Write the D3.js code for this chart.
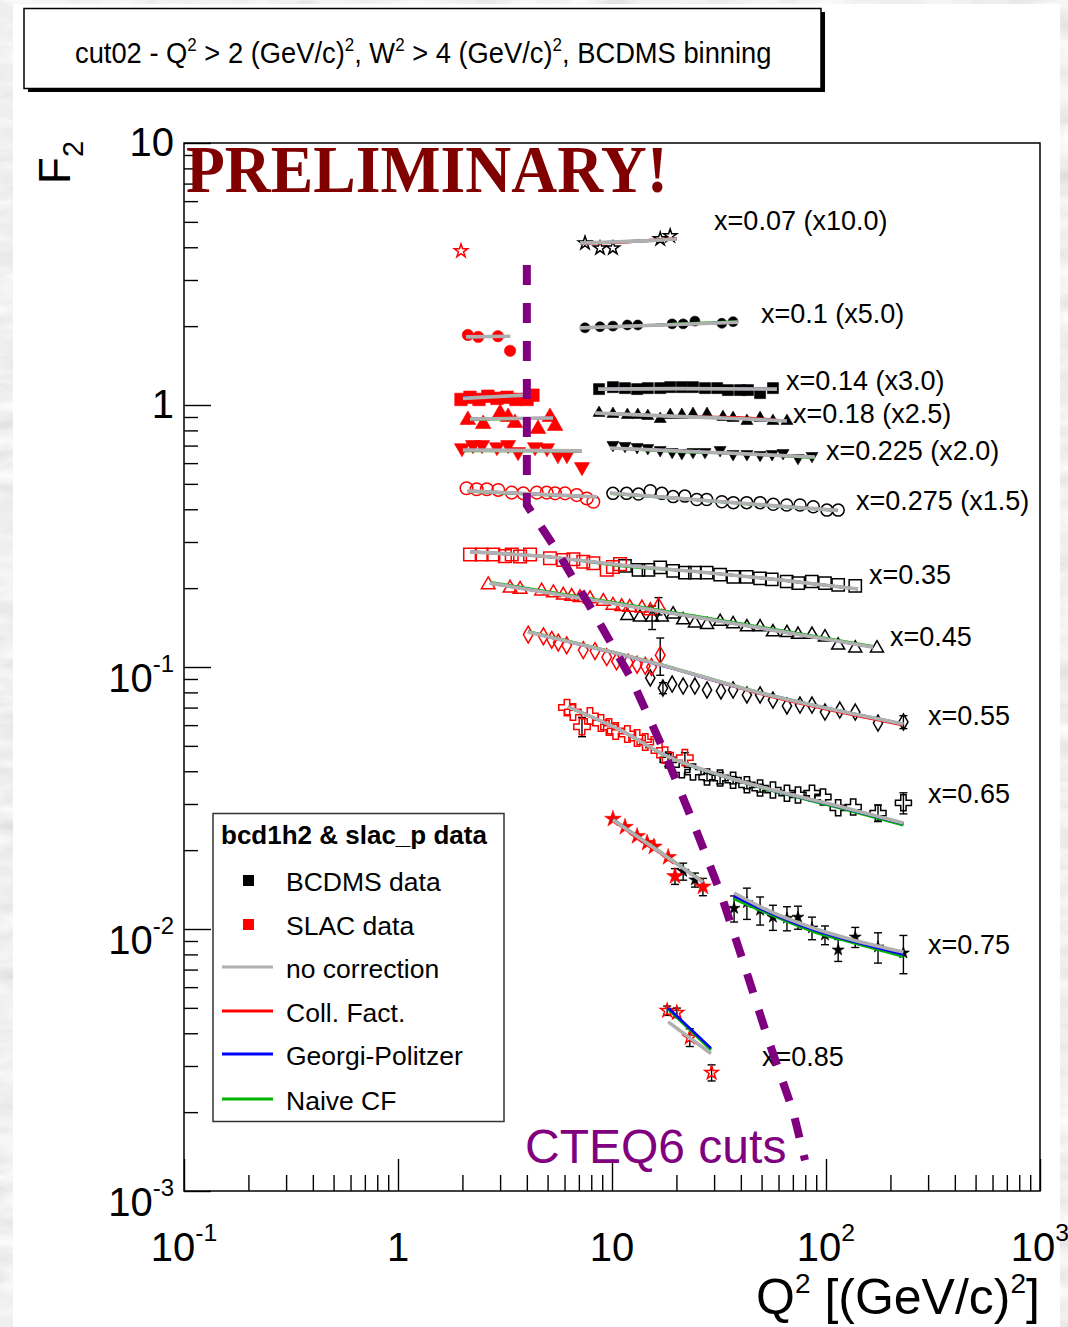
<!DOCTYPE html>
<html><head><meta charset="utf-8">
<script src="https://cdn.jsdelivr.net/npm/d3@7"></script>
<style>html,body{margin:0;padding:0;background:#ddd;overflow:hidden}svg{display:block}</style>
</head><body>
<svg id="c" width="1068" height="1327"></svg>
<script>
// ---------------- DATA ----------------
const binLabels = ["x=0.07 (x10.0)","x=0.1 (x5.0)","x=0.14 (x3.0)","x=0.18 (x2.5)","x=0.225 (x2.0)","x=0.275 (x1.5)","x=0.35","x=0.45","x=0.55","x=0.65","x=0.75","x=0.85"];
// label anchor (Q2, F2) for each bin label
const labelQ2 = [30.0, 49.7, 65.1, 70.1, 100, 138, 159, 199, 300, 300, 300, 50.2];
const labelF2 = [4.66, 2.06, 1.14, 0.854, 0.617, 0.397, 0.207, 0.120, 0.0601, 0.0303, 0.00803, 0.0030];

// SLAC data (F2 as plotted, incl. scale factor)
const slacQ2 = [
 [1.97],
 [2.12,2.37,2.93,3.34],
 [1.97,2.17,2.39,2.63,2.90,3.23,3.56,4.01,4.27],
 [2.12,2.50,3.00,3.27,3.52,4.51,5.13,5.42],
 [1.99,2.24,2.47,2.90,3.27,3.64,4.37,4.97,5.59,6.16,7.24],
 [2.09,2.33,2.60,2.94,3.40,3.85,4.45,4.95,5.42,6.03,6.84,7.62,8.18],
 [2.17,2.46,2.79,3.16,3.40,3.72,4.14,5.13,5.92,6.60,7.34,8.18,9.45,10.1,10.9],
 [2.64,3.34,3.72,4.69,5.32,5.92,6.48,7.09,7.89,9.11,10.1,11.1,12.1,13.8,15.1,16.5],
 [4.06,4.78,5.23,5.61,6.14,7.34,8.33,9.45,10.5,11.9,13.1,14.3,15.3,16.8],
 [6.16,6.57,7.24,7.89,8.88,9.68,10.4,11.8,13.1,14.3,15.7,17.7,21.9],
 [10.1,11.5,13.1,14.6,15.7,18.3,19.7,26.6],
 [18.1,20.1,23.1,29.2]
];
const slacF2 = [
 [3.87],
 [1.85,1.82,1.83,1.61],
 [1.05,1.07,1.05,1.08,1.06,1.07,1.05,1.05,1.09],
 [0.877,0.846,0.932,0.900,0.854,0.810,0.900,0.832],
 [0.685,0.704,0.704,0.691,0.704,0.662,0.691,0.685,0.645,0.645,0.580],
 [0.481,0.477,0.477,0.474,0.463,0.460,0.463,0.463,0.460,0.460,0.453,0.440,0.427],
 [0.269,0.269,0.269,0.265,0.269,0.264,0.269,0.260,0.256,0.258,0.252,0.249,0.235,0.241,0.247],
 [0.206,0.200,0.198,0.195,0.192,0.188,0.186,0.184,0.182,0.178,0.172,0.170,0.169,0.168,0.164,0.171],
 [0.133,0.131,0.127,0.124,0.121,0.116,0.115,0.109,0.105,0.104,0.102,0.101,0.100,0.111],
 [0.0700,0.0673,0.0592,0.0650,0.0611,0.0590,0.0570,0.0555,0.0536,0.0517,0.0504,0.0461,0.0451],
 [0.0263,0.0245,0.0226,0.0213,0.0206,0.0188,0.0159,0.0145],
 [0.00488,0.00479,0.00386,0.00283]
];
const slacErr = [
 [],[],[],[],[],[],[],
 [0,0,0,0,0,0,0,0,0,0,0,0,0,0,0,0.013],
 [0,0,0,0,0,0,0,0,0,0,0,0,0,0.018],
 [0,0,0.005,0,0,0,0,0,0,0,0,0,0.002],
 [0,0,0,0,0,0,0.0011,0.0011],
 [0.0002,0.0002,0.0003,0.0002]
];

// BCDMS data
const bcdmsQ2 = [
 [7.48,8.79,10.1,16.8,18.7],
 [7.48,8.79,10.1,11.8,13.2,19.1,21.5,24.4,32.6,36.8],
 [8.70,10.1,11.5,13.1,14.7,16.8,18.7,21.2,23.9,27.2,31.0,34.8,39.6,43.2,49.2,56.5],
 [8.70,10.1,11.8,13.2,14.7,16.8,18.7,21.2,23.9,27.8,33.0,36.8,42.7,49.2,56.5,65.7],
 [10.1,11.5,13.1,14.7,16.8,19.1,21.2,23.9,27.2,32.0,36.8,42.7,49.2,56.0,63.0,74.0,86.0],
 [10.1,11.7,13.3,15.1,17.1,19.3,21.9,24.9,27.7,32.6,36.9,42.6,49.2,56.7,65.5,75.6,87.2,101,114],
 [11.5,13.3,14.8,16.8,19.3,21.9,24.4,27.7,32.0,36.9,42.6,49.2,55.8,65.5,74.2,85.8,98.9,114,137],
 [11.8,13.5,15.4,17.1,19.3,21.5,24.4,27.8,32.0,36.8,42.7,49.2,56.5,65.7,74.0,86.0,98.9,114,137,173],
 [15.1,17.3,19.1,21.5,24.4,27.8,32.3,36.8,42.7,49.2,56.5,65.7,75.6,86.0,98.9,116,137,175,230],
 [18.3,21.2,23.9,27.8,32.0,36.8,42.7,49.2,56.5,65.7,74.0,86.0,96.8,114,134,175,230],
 [21.5,24.4,37.2,42.7,49.2,56.5,65.7,74.0,86.0,98.9,114,137,175,230],
 []
];
const bcdmsF2 = [
 [4.15,3.97,3.97,4.30,4.42],
 [1.97,1.99,2.00,2.02,2.02,2.04,2.04,2.09,2.05,2.08],
 [1.15,1.17,1.16,1.15,1.16,1.16,1.17,1.17,1.17,1.16,1.16,1.14,1.14,1.14,1.11,1.16],
 [0.932,0.924,0.916,0.916,0.908,0.884,0.916,0.916,0.924,0.924,0.900,0.892,0.869,0.892,0.869,0.869],
 [0.704,0.698,0.691,0.685,0.673,0.662,0.656,0.662,0.662,0.673,0.650,0.650,0.645,0.650,0.656,0.628,0.639],
 [0.460,0.460,0.457,0.471,0.460,0.447,0.449,0.436,0.436,0.427,0.424,0.424,0.424,0.418,0.415,0.415,0.409,0.397,0.397],
 [0.243,0.235,0.235,0.240,0.233,0.229,0.229,0.229,0.225,0.221,0.221,0.218,0.216,0.212,0.209,0.212,0.209,0.206,0.204],
 [0.157,0.155,0.155,0.155,0.159,0.151,0.147,0.145,0.149,0.146,0.142,0.142,0.136,0.135,0.133,0.133,0.130,0.121,0.118,0.118],
 [0.0908,0.0831,0.0861,0.0846,0.0846,0.0817,0.0810,0.0817,0.0782,0.0782,0.0748,0.0710,0.0716,0.0716,0.0673,0.0685,0.0673,0.0611,0.0617],
 [0.0442,0.0405,0.0397,0.0380,0.0377,0.0370,0.0355,0.0345,0.0339,0.0330,0.0325,0.0330,0.0319,0.0290,0.0292,0.0277,0.0303],
 [0.0166,0.0154,0.0120,0.0126,0.0118,0.0111,0.0110,0.0111,0.0101,0.00949,0.00832,0.00932,0.00854,0.00810],
 []
];
const bcdmsErr = [
 [],[],[],[],[],[],[],
 [0,0,0.016],
 [0,0.004,0,0,0,0,0,0,0,0,0,0,0,0,0,0,0,0,0.0035],
 [0.0025,0,0,0.0012,0.0019,0.0012,0.0012,0.0012,0,0,0,0,0,0,0,0.0020,0.0028],
 [0.00124,0.00095,0.00137,0.00172,0.00145,0.00122,0.00116,0.00112,0.00100,0.00078,0.00080,0.00082,0.00113,0.00135],
 []
];

// model curves (segments)
const curveQ2 = [
 [7.09,10.9,15.0,20.1],[2.08,3.34],[7.09,12.1,20.1,38.8],[2.01,2.80,3.84],[8.61,20.0,59.0],
 [2.17,5.30],[8.33,20.0,40.0,65.7],[2.01,7.24],[9.79,20.0,40.0,88.8],[2.12,4.00,8.51],
 [9.79,20.0,45.0,113],[2.17,5.13,10.9,25.8,61.0,141],[2.69,10.0,40.0,166],[4.05,15.1,49.2,230],
 [6.23,10.9,18.1,32.0,56.5,114,230],[10.1,16.4,26.6],[37.2,53.0,87.0,134,230],[18.3,29.0]
];
const noCorrection = [
 [4.15,4.20,4.24,4.30],[1.82,1.83],[1.97,2.00,2.03,2.07],[1.06,1.075,1.09],[1.15,1.155,1.15],
 [0.884,0.892],[0.932,0.905,0.886,0.869],[0.673,0.668],[0.685,0.668,0.652,0.633],[0.470,0.459,0.446],
 [0.461,0.441,0.419,0.396],[0.275,0.263,0.245,0.2305,0.215,0.1985],[0.209,0.175,0.145,0.119],[0.136,0.1045,0.0796,0.0606],
 [0.0704,0.0575,0.0457,0.0387,0.0339,0.0295,0.0254],[0.0261,0.0199,0.0151],[0.01372,0.01182,0.01009,0.00908,0.00817],[0.00442,0.00335]
];
const collFact = [
 [4.14,4.17,4.26,4.33],[1.82,1.83],[1.97,2.00,2.03,2.07],[1.06,1.075,1.09],[1.15,1.155,1.15],
 [0.884,0.892],[0.932,0.905,0.895,0.869],[0.673,0.668],[0.685,0.668,0.652,0.633],[0.470,0.459,0.446],
 [0.461,0.441,0.419,0.396],[0.275,0.263,0.245,0.2305,0.215,0.1985],[0.209,0.175,0.145,0.119],[0.136,0.1045,0.0790,0.0600],
 [0.0704,0.0575,0.0457,0.0386,0.0338,0.0293,0.0252],[0.0261,0.0199,0.0151],[0.01337,0.01165,0.00993,0.00896,0.00800],[0.00497,0.00348]
];
const georgiPolitzer = [
 [4.15,4.20,4.24,4.30],[1.82,1.83],[1.97,2.00,2.03,2.07],[1.07,1.075,1.09],[1.15,1.155,1.15],
 [0.884,0.892],[0.932,0.905,0.886,0.869],[0.673,0.668],[0.685,0.668,0.652,0.633],[0.470,0.459,0.446],
 [0.461,0.441,0.419,0.396],[0.275,0.263,0.245,0.2305,0.215,0.1985],[0.209,0.175,0.145,0.119],[0.136,0.1040,0.0796,0.0606],
 [0.0704,0.0575,0.0457,0.0386,0.0338,0.0293,0.0252],[0.0262,0.0199,0.0151],[0.01337,0.01165,0.00993,0.00896,0.00800],[0.00500,0.00351]
];
const naiveCF = [
 [4.15,4.20,4.24,4.30],[1.82,1.83],[1.97,2.00,2.04,2.08],[1.06,1.075,1.09],[1.15,1.155,1.15],
 [0.878,0.892],[0.932,0.905,0.886,0.869],[0.668,0.666],[0.685,0.664,0.652,0.628],[0.468,0.457,0.446],
 [0.459,0.440,0.417,0.395],[0.275,0.263,0.243,0.2305,0.215,0.1985],[0.211,0.177,0.1465,0.120],[0.137,0.1050,0.0800,0.0606],
 [0.0704,0.0575,0.0455,0.0385,0.0336,0.0290,0.0249],[0.0262,0.0200,0.0152],[0.01302,0.01148,0.00977,0.00885,0.00784],[0.00494,0.00345]
];

// CTEQ6 cut line
const cutQ2 = [4.0,4.0,5.42,8.33,12.4,17.5,23.9,32.3,41.8,53.6,70.1,79.8];
const cutF2 = [3.42,0.415,0.285,0.158,0.0892,0.0478,0.0256,0.0136,0.00716,0.00380,0.00202,0.00131];

// axes
const xTicksMajor = [0.1,1,10,100,1000];
const xTickText = [["10","-1"],["1",""],["10",""],["10","2"],["10","3"]];
const yTicksMajor = [0.001,0.01,0.1,1,10];
const yTickText = [["10","-3"],["10","-2"],["10","-1"],["1",""],["10",""]];
const legendLabels = ["BCDMS data","SLAC data","no correction","Coll. Fact.","Georgi-Politzer","Naive CF"];

// ---------------- STYLE ----------------
const SANS = "'Liberation Sans', Arial, Helvetica, sans-serif";
const binMarker = ["star","circle","square","tri","triDown","circle","square","tri","diamond","cross","star","star"];
const binFilled = [false,true,true,true,true,false,false,false,false,false,true,false];
const binSize   = [55,78,121,62,62,113,150,73,74,142,45,50];
const slacFactor= [1,1.3,1.3,1.7,1.6,1.1,1.05,1.1,1.1,1.05,1.9,1.1];
const modelColors = {gray:"#b0b0b0", red:"#ff0000", blue:"#0000ff", green:"#00b400"};

// ---------------- DRAW ----------------
const W=1068,H=1327;
const svg=d3.select("#c");
const defs=svg.append("defs");
const f=defs.append("filter").attr("id","marble").attr("x",0).attr("y",0).attr("width","100%").attr("height","100%");
f.append("feTurbulence").attr("type","fractalNoise").attr("baseFrequency","0.02 0.06").attr("numOctaves",4).attr("seed",7);
f.append("feColorMatrix").attr("type","matrix").attr("values","0.33 0.33 0.33 0 0 0.33 0.33 0.33 0 0 0.33 0.33 0.33 0 0 0 0 0 0 1");
const ct=f.append("feComponentTransfer");
["feFuncR","feFuncG","feFuncB"].forEach(t=>ct.append(t).attr("type","linear").attr("slope",0.55).attr("intercept",0.6));
svg.append("rect").attr("width",W).attr("height",H).attr("fill","#ddd").attr("filter","url(#marble)");
svg.append("rect").attr("x",13).attr("y",4).attr("width",1047).attr("height",H).attr("fill","#fff");

const x=d3.scaleLog().domain([0.1,1000]).range([184,1040]);
const y=d3.scaleLog().domain([0.001,10]).range([1191,143]);

function rich(sel, parts, fs, o={}){
  const ss=o.scale||0.62, rise=o.rise||0.48, drop=o.drop||0.3;
  let shift=0;
  parts.forEach(([t,k])=>{
    if(!t) return;
    const target = k==="sup" ? -fs*rise : k==="sub" ? fs*drop : 0;
    sel.append("tspan").attr("dy",target-shift).attr("font-size",k?fs*ss:fs).text(t);
    shift=target;
  });
}

// title box
svg.append("rect").attr("x",28).attr("y",12).attr("width",797).attr("height",80).attr("fill","#000");
svg.append("rect").attr("x",24).attr("y",8.5).attr("width",797).attr("height",80).attr("fill","#fff").attr("stroke","#000").attr("stroke-width",1.5);
const tt=svg.append("text").attr("font-family",SANS).attr("font-size",29).attr("fill","#000");
rich(tt,[["cut02 - Q"],["2","sup"],[" > 2 (GeV/c)"],["2","sup"],[", W"],["2","sup"],[" > 4 (GeV/c)"],["2","sup"],[", BCDMS binning"]],29,{scale:0.62,rise:0.42});
const tw=tt.node().getBBox().width;
tt.attr("transform",`translate(75,63) scale(${697/tw},1)`);

// frame
svg.append("rect").attr("x",184).attr("y",143).attr("width",856).attr("height",1048).attr("fill","none").attr("stroke","#000").attr("stroke-width",1.5);

// axes ticks
const xMinor=[],yMinor=[];
[0.1,1,10,100].forEach(d=>{for(let k=2;k<10;k++)xMinor.push(k*d);});
[0.001,0.01,0.1,1].forEach(d=>{for(let k=2;k<10;k++)yMinor.push(k*d);});
const gx=svg.append("g").attr("transform","translate(0,1191)");
gx.append("g").call(d3.axisBottom(x).tickValues(xMinor).tickSize(-16).tickFormat(""));
gx.append("g").call(d3.axisBottom(x).tickValues(xTicksMajor).tickSize(-32).tickFormat(""));
const gy=svg.append("g").attr("transform","translate(184,0)");
gy.append("g").call(d3.axisLeft(y).tickValues(yMinor).tickSize(-14).tickFormat(""));
gy.append("g").call(d3.axisLeft(y).tickValues(yTicksMajor).tickSize(-27).tickFormat(""));
svg.selectAll(".domain").remove();
svg.selectAll(".tick line").attr("stroke","#000").attr("stroke-width",1.4);

// tick labels
xTicksMajor.forEach((v,i)=>{
  const t=svg.append("text").attr("x",x(v)).attr("y",1261).attr("text-anchor","middle").attr("font-family",SANS).attr("font-size",40);
  rich(t,[[xTickText[i][0]],[xTickText[i][1],"sup"]],40,{scale:0.62,rise:0.5});
});
yTicksMajor.forEach((v,i)=>{
  const hasExp=yTickText[i][1]!=="";
  const t=svg.append("text").attr("x",174).attr("y",y(v)+(hasExp?25:13)).attr("text-anchor","end").attr("font-family",SANS).attr("font-size",40);
  rich(t,[[yTickText[i][0]],[yTickText[i][1],"sup"]],40,{scale:0.6,rise:0.49});
});

// axis titles
const xt=svg.append("text").attr("x",1040).attr("y",1314).attr("text-anchor","end").attr("font-family",SANS).attr("font-size",50);
rich(xt,[["Q"],["2","sup"],[" [(GeV/c)"],["2","sup"],["]"]],50,{scale:0.56,rise:0.42});
const yt=svg.append("text").attr("transform","translate(70,184) rotate(-90)").attr("font-family",SANS).attr("font-size",44);
rich(yt,[["F"],["2","sub"]],44,{scale:0.66,drop:0.3});

// PRELIMINARY
svg.append("text").attr("x",186).attr("y",192).attr("font-family","'Liberation Serif','Times New Roman',serif").attr("font-weight","bold")
  .attr("font-size",68).attr("fill","#800000").attr("textLength",482).attr("lengthAdjust","spacingAndGlyphs").text("PRELIMINARY!");

// markers
function symPath(b,size){
  const m=binMarker[b];
  const type={star:d3.symbolStar,circle:d3.symbolCircle,square:d3.symbolSquare,tri:d3.symbolTriangle,triDown:d3.symbolTriangle,diamond:d3.symbolDiamond,cross:d3.symbolCross}[m];
  return d3.symbol(type,size)();
}
const gm=svg.append("g");
function drawSet(b,Q,F,E,color,factor){
  Q.forEach((q,i)=>{
    const e=(E&&E[i])||0;
    const px=x(q),py=y(F[i]);
    if(e>0){
      const y1=y(F[i]+e),y2=y(Math.max(F[i]-e,1e-4));
      gm.append("line").attr("x1",px).attr("x2",px).attr("y1",y1).attr("y2",y2).attr("stroke","#000").attr("stroke-width",1.4);
      [y1,y2].forEach(yy=>gm.append("line").attr("x1",px-4).attr("x2",px+4).attr("y1",yy).attr("y2",yy).attr("stroke","#000").attr("stroke-width",1.4));
    }
    const rot=binMarker[b]==="triDown"?" rotate(180)":"";
    gm.append("path").attr("d",symPath(b,binSize[b]*factor)).attr("transform",`translate(${px},${py})${rot}`)
      .attr("fill",binFilled[b]?color:"none").attr("stroke",color).attr("stroke-width",binFilled[b]?0.6:1.5);
  });
}
binLabels.forEach((lab,b)=>{
  drawSet(b,bcdmsQ2[b],bcdmsF2[b],bcdmsErr[b],"#000",1);
  drawSet(b,slacQ2[b],slacF2[b],slacErr[b],"#ff0000",slacFactor[b]);
});

// curves
const line=d3.line().x(d=>x(d[0])).y(d=>y(d[1])).curve(d3.curveMonotoneX);
const gc=svg.append("g").attr("fill","none").attr("stroke-linecap","butt");
[[collFact,"red",2.6],[naiveCF,"green",2.6],[georgiPolitzer,"blue",2.6],[noCorrection,"gray",3.6]].forEach(([arr,c,w])=>{
  curveQ2.forEach((qs,s)=>{
    gc.append("path").attr("d",line(qs.map((q,i)=>[q,arr[s][i]]))).attr("stroke",modelColors[c]).attr("stroke-width",w);
  });
});

// bin labels
binLabels.forEach((lab,b)=>{
  svg.append("text").attr("x",x(labelQ2[b])).attr("y",y(labelF2[b])).attr("font-family",SANS).attr("font-size",27).attr("fill","#000").text(lab);
});

// CTEQ6 cut line
svg.append("path").attr("d",d3.line().x(d=>x(d[0])).y(d=>y(d[1]))(cutQ2.map((q,i)=>[q,cutF2[i]])))
  .attr("fill","none").attr("stroke","#800080").attr("stroke-width",8).attr("stroke-dasharray","20,18");
svg.append("text").attr("x",525).attr("y",1163).attr("font-family",SANS).attr("font-size",48).attr("fill","#800080").text("CTEQ6 cuts");

// legend
const lg=svg.append("g");
lg.append("rect").attr("x",213).attr("y",813.5).attr("width",291).attr("height",308).attr("fill","#fff").attr("stroke","#333").attr("stroke-width",1.5);
lg.append("text").attr("x",221).attr("y",844).attr("font-family",SANS).attr("font-weight","bold").attr("font-size",26).text("bcd1h2 & slac_p data");
const legY=[891,935,978,1022,1065,1110];
const legMark=[["sq","#000"],["sq","#ff0000"],["ln",modelColors.gray],["ln",modelColors.red],["ln",modelColors.blue],["ln",modelColors.green]];
legendLabels.forEach((t,i)=>{
  const [k,c]=legMark[i];
  if(k==="sq") lg.append("rect").attr("x",243).attr("y",legY[i]-16).attr("width",11).attr("height",11).attr("fill",c);
  else lg.append("line").attr("x1",222).attr("x2",273).attr("y1",legY[i]-11).attr("y2",legY[i]-11).attr("stroke",c).attr("stroke-width",3.2);
  lg.append("text").attr("x",286).attr("y",legY[i]).attr("font-family",SANS).attr("font-size",26.5).text(t);
});
</script></body></html>
